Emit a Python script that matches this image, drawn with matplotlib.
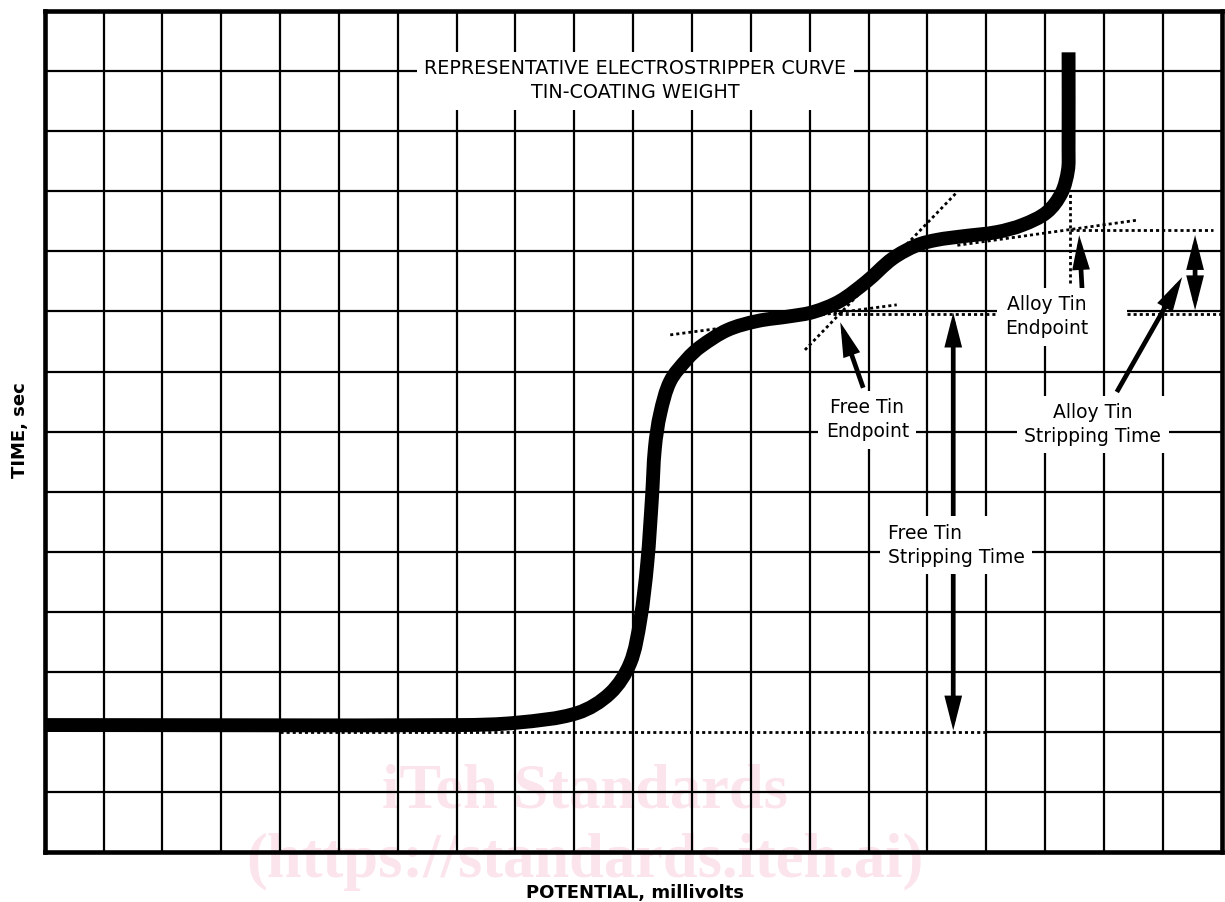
import matplotlib
matplotlib.use("Agg")
import numpy as np
import matplotlib.pyplot as plt
from matplotlib.patches import FancyArrowPatch, PathPatch
from matplotlib.path import Path

# ---------------- data (grid units: x = potential divisions, y = time divisions) -------------
n_cols = 20
n_rows = 14

curve_x = [0.0, 7.06, 8.03, 9.05, 9.61, 9.95, 10.12, 10.24, 10.32, 10.37, 10.46, 10.63,
           10.92, 11.14, 11.60, 12.11, 12.67, 13.06, 13.51, 13.97, 14.41, 14.82, 15.16,
           15.60, 16.18, 16.62, 17.03, 17.28, 17.39, 17.40, 17.40]
curve_y = [2.12, 2.12, 2.16, 2.32, 2.65, 3.15, 3.86, 4.81, 5.90, 6.73, 7.30, 7.84,
           8.21, 8.41, 8.69, 8.84, 8.92, 8.99, 9.17, 9.50, 9.88, 10.10, 10.19,
           10.25, 10.32, 10.44, 10.65, 10.97, 11.35, 11.69, 13.31]

# construction (dotted) lines
baseline_x = [4.0, 16.0]
baseline_y = [2.0, 2.0]
tangent1_x = [10.63, 14.48]
tangent1_y = [8.61, 9.11]
tangent2_x = [12.92, 15.51]
tangent2_y = [8.36, 10.99]
tangent3_x = [15.51, 18.58]
tangent3_y = [10.10, 10.52]
alloy_vert_x = [17.43, 17.43]
alloy_vert_y = [9.47, 10.97]
alloy_horiz_x = [17.43, 19.86]
alloy_horiz_y = [10.36, 10.36]
free_end_y = 9.0
free_end_seg1 = [13.40, 16.18]
free_end_seg2 = [18.40, 20.0]

# arrows: (tail_x, tail_y, head_x, head_y, style)
arrows = [
    (13.91, 7.73, 13.52, 8.82, "-|>"),
    (15.44, 2.03, 15.44, 8.98, "<|-|>"),
    (17.63, 9.36, 17.58, 10.27, "-|>"),
    (18.22, 7.66, 19.33, 9.57, "-|>"),
    (19.55, 9.02, 19.55, 10.27, "<|-|>"),
]

# labels: (x, y, text, ha, size)
labels = [
    (10.04, 12.84, "REPRESENTATIVE ELECTROSTRIPPER CURVE\nTIN-COATING WEIGHT", "center", 13.8),
    (17.03, 8.91, "Alloy Tin\nEndpoint", "center", 13.5),
    (13.98, 7.20, "Free Tin\nEndpoint", "center", 13.5),
    (17.81, 7.12, "Alloy Tin\nStripping Time", "center", 13.5),
    (14.33, 5.11, "Free Tin\nStripping Time", "left", 13.5),
]

x_label = "POTENTIAL, millivolts"
y_label = "TIME, sec"
watermark = ["iTeh Standards", "(https://standards.iteh.ai)"]


def smooth_path(xs, ys):
    """Cubic Bezier path passing through every read point (tangent-continuous)."""
    p = np.column_stack([xs, ys]).astype(float)
    n = len(p)
    tang = np.zeros_like(p)
    for i in range(n):
        if i == 0:
            d = p[1] - p[0]
        elif i == n - 1:
            d = p[-1] - p[-2]
        else:
            d = p[i + 1] - p[i - 1]
        tang[i] = d / np.hypot(*d)
    verts = [p[0]]
    codes = [Path.MOVETO]
    for i in range(n - 1):
        L = np.hypot(*(p[i + 1] - p[i])) / 3.0
        verts += [p[i] + tang[i] * L, p[i + 1] - tang[i + 1] * L, p[i + 1]]
        codes += [Path.CURVE4] * 3
    return Path(verts, codes)


# ---------------- figure ----------------
fig = plt.figure(figsize=(12.25, 9.02), dpi=100)
ax = fig.add_axes([0.03649, 0.05488, 0.9607, 0.9331])
ax.set_xlim(0, n_cols)
ax.set_ylim(0, n_rows)
ax.set_xticks([])
ax.set_yticks([])
for sp in ax.spines.values():
    sp.set_linewidth(3.3)
    sp.set_color("black")
    sp.set_zorder(10)

# watermark (behind grid)
wm_color = "#fbe4eb"
ax.text(9.18, 0.99, watermark[0], ha="center", va="center", fontsize=45,
        family="Liberation Serif", weight="bold", color=wm_color, zorder=0.5, clip_on=False)
ax.text(9.18, -0.16, watermark[1], ha="center", va="center", fontsize=45,
        family="Liberation Serif", weight="bold", color=wm_color, zorder=0.5, clip_on=False)

grid_kw = dict(color="black", lw=1.6, zorder=1, solid_capstyle="butt")
for k in range(1, n_cols):
    ax.plot([k, k], [0, n_rows], **grid_kw)
for k in range(1, n_rows):
    if k == 2:
        ax.plot([16, n_cols], [k, k], **grid_kw)
    elif k == 9:
        ax.plot([0, free_end_seg1[1]], [k, k], **grid_kw)
        ax.plot(free_end_seg2, [k, k], **grid_kw)
    else:
        ax.plot([0, n_cols], [k, k], **grid_kw)

dot_kw = dict(color="black", lw=2.0, linestyle=(0, (1.1, 1.1)), zorder=2, dash_capstyle="butt")
ax.plot(baseline_x, baseline_y, **dot_kw)
ax.plot(tangent1_x, tangent1_y, **dot_kw)
ax.plot(tangent2_x, tangent2_y, **dot_kw)
ax.plot(tangent3_x, tangent3_y, **dot_kw)
ax.plot(alloy_vert_x, alloy_vert_y, **dot_kw)
ax.plot(alloy_horiz_x, alloy_horiz_y, **dot_kw)
for seg in (free_end_seg1, free_end_seg2):
    ax.plot(seg, [free_end_y - 0.035] * 2, **dot_kw)

# curve
ax.add_patch(PathPatch(smooth_path(curve_x, curve_y), facecolor="none", edgecolor="black",
                       lw=10, capstyle="butt", joinstyle="round", zorder=3))

# arrows
for tx, ty, hx, hy, style in arrows:
    st = style + ",head_length=1.65,head_width=0.42"
    arr = FancyArrowPatch((tx, ty), (hx, hy), arrowstyle=st, mutation_scale=10,
                          lw=3.4, color="black", shrinkA=0, shrinkB=0, zorder=5,
                          joinstyle="miter", capstyle="butt")
    ax.add_patch(arr)

# labels with white boxes that break the grid
for x, y, t, ha, fs in labels:
    ax.text(x, y, t, ha=ha, va="center", multialignment="center" if ha == "center" else "left",
            fontsize=fs, family="DejaVu Sans", color="black", zorder=7, linespacing=1.32,
            bbox=dict(boxstyle="square,pad=0.4", facecolor="white", edgecolor="none"))

fig.text(0.518, 0.0105, x_label, ha="center", va="center", fontsize=13,
         weight="bold", family="DejaVu Sans")
fig.text(0.0165, 0.523, y_label, ha="center", va="center", rotation=90, fontsize=13,
         weight="bold", family="DejaVu Sans")

fig.savefig("out.png", dpi=100)
